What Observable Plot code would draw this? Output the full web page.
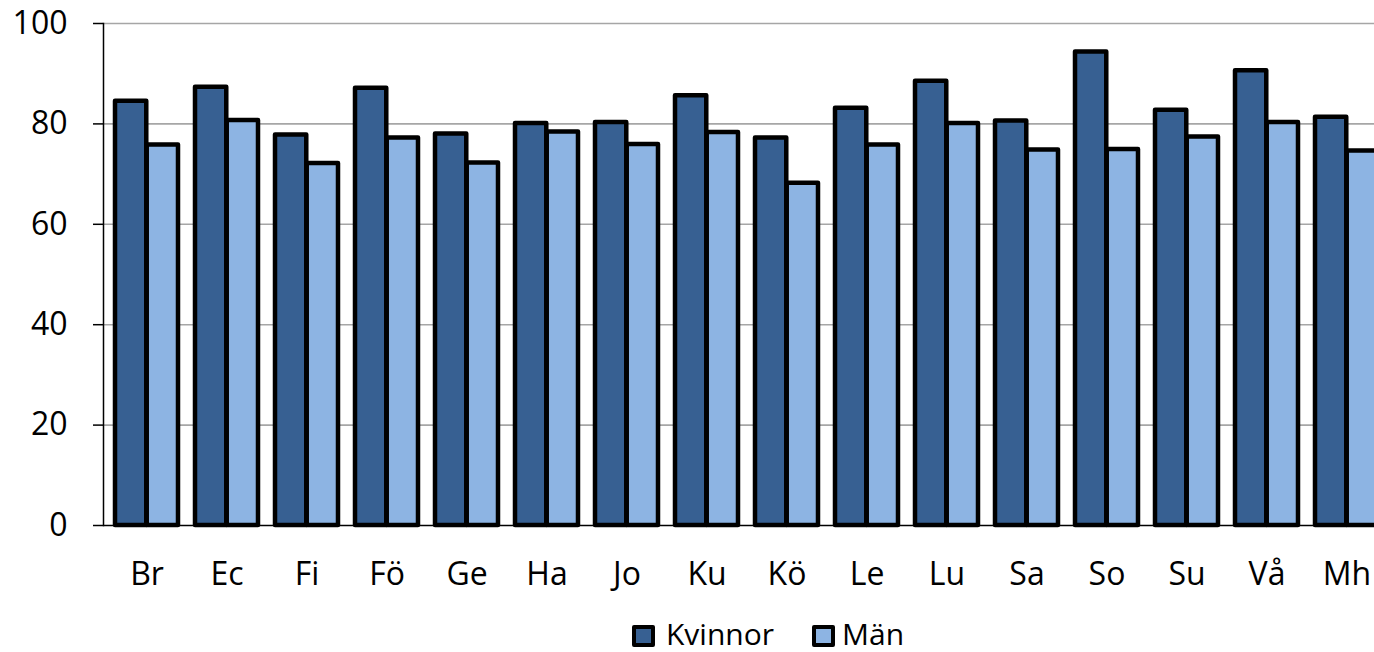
<!DOCTYPE html>
<html>
<head>
<meta charset="utf-8">
<script src="https://cdn.jsdelivr.net/npm/d3@7"></script>
<script src="https://cdn.jsdelivr.net/npm/@observablehq/plot@0.6"></script>
<style>
  html, body { margin: 0; padding: 0; background: white; overflow: hidden; width: 1374px; height: 652px; }
  #chart svg { overflow: hidden; display: block; max-width: none; }
  #legend { position: relative; width: 1374px; height: 48px; font-family: "Open Sans", sans-serif; font-size: 30px; color: black; }
  .sw { position: absolute; top: 21px; width: 23px; height: 22px; box-sizing: border-box; border: 4px solid black; border-radius: 2px; }
  .lb { position: absolute; top: 13px; height: 34px; line-height: 34px; white-space: nowrap; }
</style>
</head>
<body>
<div id="chart"></div>
<div id="legend"></div>
<script>
const categories = ["Br","Ec","Fi","Fö","Ge","Ha","Jo","Ku","Kö","Le","Lu","Sa","So","Su","Vå","Mh"];
const kvinnor = [84.5,87.3,77.8,87.1,78.0,80.1,80.3,85.6,77.2,83.1,88.5,80.6,94.3,82.7,90.6,81.3];
const man     = [75.8,80.7,72.1,77.2,72.2,78.4,75.9,78.3,68.2,75.8,80.1,74.8,74.9,77.4,80.3,74.6];
const seriesNames = ["Kvinnor","Män"];
const seriesColors = ["#376092","#8db4e3"];
const yTicks = [0,20,40,60,80,100];

const rowsK = categories.map((c,i) => ({cat: c, value: kvinnor[i]}));
const rowsM = categories.map((c,i) => ({cat: c, value: man[i]}));

const xRange = [104.4, 1388.1];
const padInner = 0.209;
const step = (xRange[1]-xRange[0]) / categories.length;
const half = step * (1 - padInner) / 2;

const chart = Plot.plot({
  width: 1374,
  height: 604,
  marginLeft: 103,
  marginRight: 0,
  marginTop: 23,
  marginBottom: 79,
  style: {fontFamily: "'Open Sans', sans-serif", fontSize: "32px", color: "black", background: "white"},
  x: {domain: categories, range: xRange, paddingInner: padInner, paddingOuter: padInner/2, label: null},
  y: {domain: [0,100], label: null},
  marks: [
    Plot.gridY(yTicks.filter(d => d > 0), {stroke: "#a6a6a6", strokeOpacity: 1, strokeWidth: 1.6}),
    Plot.barY(rowsK, {x: "cat", y: "value", fill: seriesColors[0], stroke: "black", strokeWidth: 4.5, strokeLinejoin: "round", insetLeft: 0, insetRight: half}),
    Plot.barY(rowsM, {x: "cat", y: "value", fill: seriesColors[1], stroke: "black", strokeWidth: 4.5, strokeLinejoin: "round", insetLeft: half, insetRight: 0}),
    Plot.ruleY([0], {stroke: "black", strokeWidth: 1.5}),
    Plot.frame({anchor: "left", stroke: "black", strokeWidth: 1.5}),
    Plot.axisY({ticks: yTicks, tickSize: 10, tickPadding: 26, stroke: "black", strokeWidth: 1.5, fontSize: 32, label: null}),
    Plot.axisX({tickSize: 0, tickPadding: 37, fontSize: 32, label: null})
  ]
});
document.getElementById("chart").appendChild(chart);

const legend = document.getElementById("legend");
const pos = [[632, 666], [812, 842]];
seriesNames.forEach((name, i) => {
  const sw = document.createElement("div");
  sw.className = "sw";
  sw.style.left = pos[i][0] + "px";
  sw.style.background = seriesColors[i];
  legend.appendChild(sw);
  const lb = document.createElement("div");
  lb.className = "lb";
  lb.style.left = pos[i][1] + "px";
  lb.textContent = name;
  legend.appendChild(lb);
});
</script>
</body>
</html>
